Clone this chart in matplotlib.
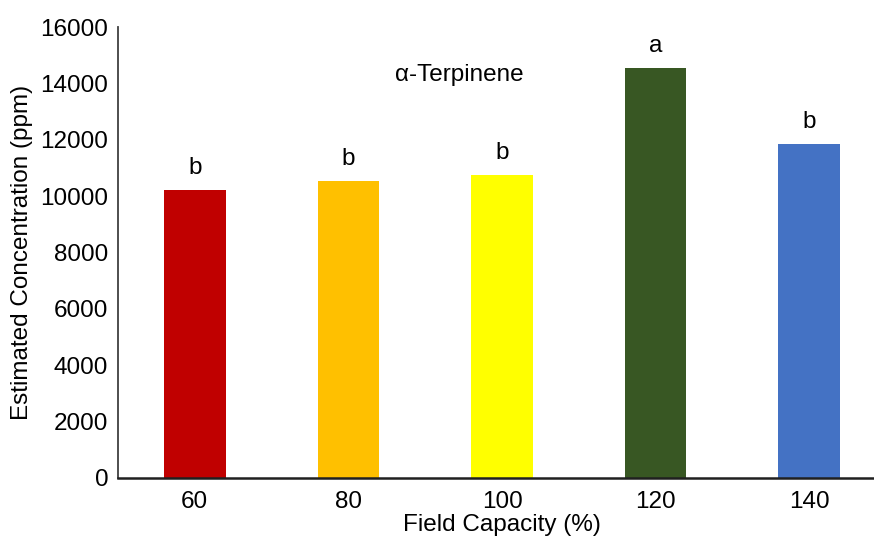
import numpy as np
import matplotlib.pyplot as plt

plt.rcParams['font.family'] = ['Liberation Sans', 'DejaVu Sans']

# Data
field_capacity = ["60", "80", "100", "120", "140"]
concentration = [10200, 10550, 10750, 14550, 11850]
letters = ["b", "b", "b", "a", "b"]
bar_colors = ["#C00000", "#FFC000", "#FFFF00", "#385723", "#4472C4"]

fig = plt.figure(figsize=(8.74, 5.38), dpi=100)
ax = fig.add_axes([118 / 874, 60 / 538, 768 / 874, 451 / 538])

x = np.arange(len(field_capacity))
bars = ax.bar(x, concentration, width=0.40, color=bar_colors)

# Significance letters
for xi, val, lab in zip(x, concentration, letters):
    ax.annotate(lab, (xi, val), xytext=(0, 8), textcoords="offset points",
                ha="center", va="bottom", fontsize=17.5)

ax.text(0.445, 0.894, "α-Terpinene", transform=ax.transAxes,
        ha="center", va="center", fontsize=17.5)

ax.set_xlim(-0.5, 4.5)
ax.set_ylim(0, 16000)
ax.set_yticks(range(0, 16001, 2000))
ax.set_xticks(x)
ax.set_xticklabels(field_capacity)
ax.tick_params(axis="both", length=0, labelsize=17.5)
ax.tick_params(axis="y", pad=7)
ax.tick_params(axis="x", pad=9)

ax.set_xlabel("Field Capacity (%)", fontsize=17.5, labelpad=1)
ax.set_ylabel("Estimated Concentration (ppm)", fontsize=17.5, labelpad=5)

for s in ["top", "right"]:
    ax.spines[s].set_visible(False)
ax.spines["left"].set_color("#404040")
ax.spines["left"].set_linewidth(1.3)
ax.spines["bottom"].set_color("#202020")
ax.spines["bottom"].set_linewidth(1.8)

fig.savefig("out.png", dpi=100)
